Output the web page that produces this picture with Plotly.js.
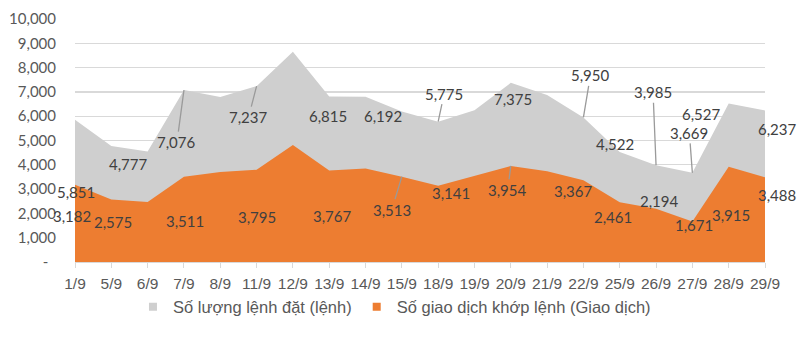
<!DOCTYPE html>
<html>
<head>
<meta charset="utf-8">
<script src="https://cdn.plot.ly/plotly-3.0.1.min.js"></script>
<style>html,body{margin:0;padding:0;background:#fff;}#chart{width:800px;height:340px;}</style>
</head>
<body>
<div id="chart"></div>
<script>
// ---- data ----
const categories = ["1/9","5/9","6/9","7/9","8/9","11/9","12/9","13/9","14/9","15/9","18/9","19/9","20/9","21/9","22/9","25/9","26/9","27/9","28/9","29/9"];
const ordersPlaced = [5851, 4777, 4550, 7076, 6790, 7237, 8650, 6815, 6800, 6192, 5775, 6250, 7375, 6870, 5950, 4522, 3985, 3669, 6527, 6237];
const tradesMatched = [3182, 2575, 2470, 3511, 3700, 3795, 4810, 3767, 3850, 3513, 3141, 3550, 3954, 3730, 3367, 2461, 2194, 1671, 3915, 3488];
const seriesNames = ["Số lượng lệnh đặt (lệnh)", "Số giao dịch khớp lệnh (Giao dịch)"];
const yTickVals = [0,1000,2000,3000,4000,5000,6000,7000,8000,9000,10000];

// ---- label placement (layout only): index -> [dx px, dy px, leader line] ----
const grayLabelPos = {0:[1,72,0],1:[17,18,0],3:[-7,52,1],5:[-8,31,1],7:[-1,20,0],9:[-19,4,0],10:[6,-28,1],12:[2,16,0],14:[7,-42,1],15:[-5,-8,0],16:[-3,-73,1],17:[-3,-40,1],18:[-27,11,0],19:[12,19,0]};
const orangeLabelPos = {0:[-3,31,0],1:[2,23,0],3:[1,44,0],5:[0,47,0],7:[3,46,0],9:[-10,33,1],10:[13,7,0],12:[-3,24,1],14:[-10,11,0],15:[-7,15,0],16:[3,-8,0],17:[2,4,0],18:[2,48,0],19:[12,18,0]};

const GRAY = '#cfcfcf', ORANGE = '#ed7d31', TXT = '#595959';
const ARIAL = '"Liberation Sans", Arial, sans-serif';
const fmt = v => v.toLocaleString('en-US');

const traces = [
  {type:'scatter', x:categories, y:ordersPlaced, mode:'lines', line:{width:0, color:GRAY}, fill:'tozeroy', fillcolor:GRAY, showlegend:false, hoverinfo:'y'},
  {type:'scatter', x:categories, y:tradesMatched, mode:'lines', line:{width:0, color:ORANGE}, fill:'tozeroy', fillcolor:ORANGE, showlegend:false, hoverinfo:'y'},
  {type:'scatter', mode:'markers', x:[null], y:[null], name:seriesNames[0], marker:{color:GRAY, symbol:'square', size:8}, showlegend:true},
  {type:'scatter', mode:'markers', x:[null], y:[null], name:seriesNames[1], marker:{color:ORANGE, symbol:'square', size:8}, showlegend:true}
];

function makeAnn(series, posMap) {
  const out = [];
  Object.keys(posMap).forEach(k => {
    const i = +k, p = posMap[k];
    out.push({
      x: categories[i], y: series[i], xref:'x', yref:'y',
      text: fmt(series[i]),
      showarrow: true, ax: p[0], ay: p[1], axref:'pixel', ayref:'pixel',
      arrowhead: 0, arrowwidth: 1.3, standoff: 0,
      arrowcolor: p[2] ? '#9a9a9a' : 'rgba(0,0,0,0)',
      font:{family:'Lato, "Open Sans", sans-serif', size:15, color:'#404040'}
    });
  });
  return out;
}
const annotations = makeAnn(ordersPlaced, grayLabelPos).concat(makeAnn(tradesMatched, orangeLabelPos));

const layout = {
  width:800, height:340,
  margin:{l:75, r:35, t:19, b:78},
  paper_bgcolor:'#fff', plot_bgcolor:'#fff',
  showlegend:true,
  legend:{orientation:'h', x:0.463, xref:'paper', xanchor:'center', y:-0.185, yanchor:'middle',
          bgcolor:'rgba(0,0,0,0)',
          font:{family:ARIAL, size:16.5, color:TXT},
          itemwidth:30, tracegroupgap:0},
  xaxis:{type:'category', range:[0,19], showgrid:false, zeroline:false,
         showline:true, linecolor:'#d9d9d9', ticks:'outside', ticklen:5, tickcolor:'#d9d9d9',
         tickfont:{family:ARIAL, size:15.5, color:TXT},
         tickangle:0, ticklabelstandoff:2},
  yaxis:{range:[0,10000], tickvals:yTickVals, ticktext:yTickVals.map(v => v===0 ? '-\u00a0\u00a0' : fmt(v)),
         showgrid:true, gridcolor:'#d9d9d9', gridwidth:1.3, zeroline:false, showline:false, ticks:'',
         tickfont:{family:'Lato, "Open Sans", sans-serif', size:15, color:TXT}, ticklabelstandoff:18},
  annotations: annotations
};

Plotly.newPlot('chart', traces, layout, {displayModeBar:false, staticPlot:true});
</script>
</body>
</html>
